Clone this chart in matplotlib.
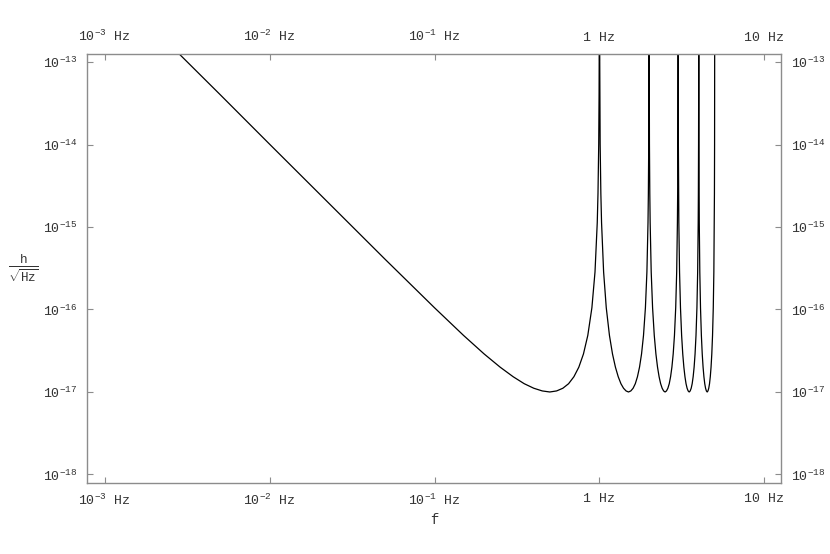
import matplotlib
matplotlib.use("Agg")
import matplotlib.pyplot as plt

# values (strain noise, lobes between the resonances)
f_lobe0 = [0.002, 0.005, 0.01, 0.02, 0.05, 0.1, 0.15, 0.2, 0.25, 0.3, 0.35, 0.4, 0.45,
           0.5, 0.55, 0.6, 0.65, 0.7, 0.75, 0.8, 0.85, 0.9, 0.94, 0.97, 0.98, 0.99, 0.995, 0.998]
h_lobe0 = [2.5e-13, 4.05e-14, 1.01e-14, 2.54e-15, 4.09e-16, 1.05e-16, 4.85e-17, 2.89e-17,
           2.00e-17, 1.53e-17, 1.26e-17, 1.11e-17, 1.03e-17, 1.00e-17, 1.03e-17, 1.11e-17,
           1.26e-17, 1.53e-17, 2.00e-17, 2.89e-17, 4.85e-17, 1.05e-16, 2.85e-16, 1.13e-15,
           2.54e-15, 1.01e-14, 4.05e-14, 2.5e-13]

f_lobe1 = [1.002, 1.01, 1.02, 1.03, 1.06, 1.1, 1.15, 1.2, 1.25, 1.3, 1.35, 1.4, 1.45, 1.5,
           1.55, 1.6, 1.65, 1.7, 1.75, 1.8, 1.85, 1.9, 1.94, 1.97, 1.98, 1.99, 1.998]
f_lobe2 = [2.002, 2.01, 2.02, 2.03, 2.06, 2.1, 2.15, 2.2, 2.25, 2.3, 2.35, 2.4, 2.45, 2.5,
           2.55, 2.6, 2.65, 2.7, 2.75, 2.8, 2.85, 2.9, 2.94, 2.97, 2.98, 2.99, 2.998]
f_lobe3 = [3.002, 3.01, 3.02, 3.03, 3.06, 3.1, 3.15, 3.2, 3.25, 3.3, 3.35, 3.4, 3.45, 3.5,
           3.55, 3.6, 3.65, 3.7, 3.75, 3.8, 3.85, 3.9, 3.94, 3.97, 3.98, 3.99, 3.998]
f_lobe4 = [4.002, 4.01, 4.02, 4.03, 4.06, 4.1, 4.15, 4.2, 4.25, 4.3, 4.35, 4.4, 4.45, 4.5,
           4.55, 4.6, 4.65, 4.7, 4.75, 4.8, 4.85, 4.9, 4.94, 4.97, 4.98, 4.99, 4.998]
# the four upper lobes look identical in depth and shape
h_lobe = [2.5e-13, 1.01e-14, 2.54e-15, 1.13e-15, 2.85e-16, 1.05e-16, 4.85e-17, 2.89e-17,
          2.00e-17, 1.53e-17, 1.26e-17, 1.11e-17, 1.03e-17, 1.00e-17, 1.03e-17, 1.11e-17,
          1.26e-17, 1.53e-17, 2.00e-17, 2.89e-17, 4.85e-17, 1.05e-16, 2.85e-16, 1.13e-15,
          2.54e-15, 1.01e-14, 2.5e-13]

x_ticks = [1e-3, 1e-2, 1e-1, 1, 10]
x_labels = [r"10$^{-3}$ Hz", r"10$^{-2}$ Hz", r"10$^{-1}$ Hz", "1 Hz", "10 Hz"]
y_ticks = [1e-18, 1e-17, 1e-16, 1e-15, 1e-14, 1e-13]
y_labels = [r"10$^{-18}$", r"10$^{-17}$", r"10$^{-16}$", r"10$^{-15}$", r"10$^{-14}$", r"10$^{-13}$"]

plt.rcParams['font.family'] = ['Liberation Mono', 'DejaVu Sans']
plt.rcParams['mathtext.fontset'] = 'custom'
plt.rcParams['mathtext.rm'] = 'Liberation Mono'
plt.rcParams['mathtext.it'] = 'Liberation Mono'
plt.rcParams['mathtext.default'] = 'rm'

frame_col = '#8c8c8c'
text_col = '#333333'

fig = plt.figure(figsize=(8.30, 5.54), dpi=100)
ax = fig.add_axes([0.1048, 0.1282, 0.8362, 0.7743])

f_all = f_lobe0 + f_lobe1 + f_lobe2 + f_lobe3 + f_lobe4
h_all = h_lobe0 + h_lobe + h_lobe + h_lobe + h_lobe
ax.plot(f_all, h_all, color='black', lw=0.9)

ax.set_xscale('log')
ax.set_yscale('log')
ax.set_xlim(10 ** -3.107, 10 ** 1.101)
ax.set_ylim(10 ** -18.103, 10 ** -12.903)

ax.set_xticks(x_ticks)
ax.set_xticklabels(x_labels)
ax.set_yticks(y_ticks)
ax.set_yticklabels(y_labels)
ax.minorticks_off()
ax.tick_params(which='major', direction='in', length=4, width=0.8, color=frame_col,
               labelsize=9.5, labelcolor=text_col, top=True, right=True,
               labeltop=True, labelright=True, pad=7)

for s in ax.spines.values():
    s.set_color(frame_col)
    s.set_linewidth(1.0)

ax.set_xlabel('f', fontsize=10, color=text_col, labelpad=4)
ax.set_ylabel(r'$\frac{h}{\sqrt{Hz}}$', fontsize=13, color=text_col, rotation=0,
              labelpad=14, va='center')

fig.savefig('out.png', dpi=100)
